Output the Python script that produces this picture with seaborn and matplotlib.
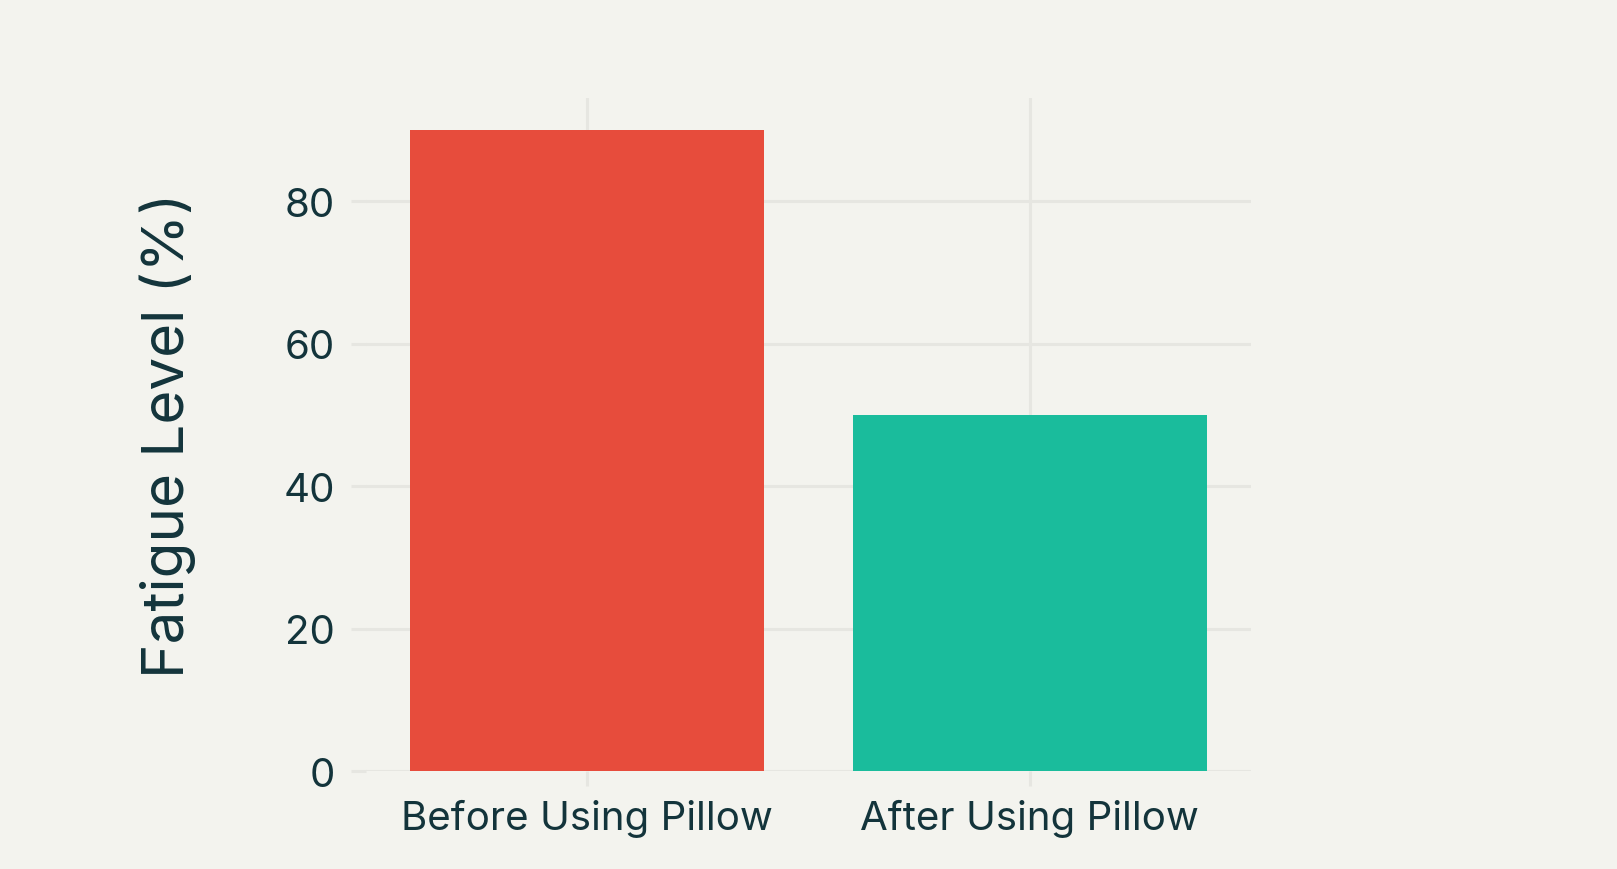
import pandas as pd
import matplotlib.pyplot as plt
import seaborn as sns

# Dados do gráfico
categories = ['Before Using Pillow', 'After Using Pillow']
fatigue = [90, 50]
bar_colors = ['#E74C3C', '#1ABC9C']
y_ticks = [0, 20, 40, 60, 80]

BG = '#F3F3EE'
GRID = '#E6E6E1'
TEXT = '#13343B'

df = pd.DataFrame({'stage': categories, 'fatigue': fatigue})

sns.set_theme(style='white')
plt.rcParams['font.family'] = ['Inter', 'DejaVu Sans']

fig = plt.figure(figsize=(16.17, 8.70), dpi=100, facecolor=BG)
ax = fig.add_axes([0.2263, 0.1126, 0.5474, 0.7736])
ax.set_facecolor(BG)

sns.barplot(data=df, x='stage', y='fatigue', hue='stage',
            palette=dict(zip(categories, bar_colors)), order=categories,
            width=0.8, saturation=1, legend=False, linewidth=0, ax=ax)

ax.set_xlim(-0.5, 1.5)
ax.set_ylim(0, 94.5)
ax.set_yticks(y_ticks)
ax.set_axisbelow(True)
ax.grid(True, axis='both', color=GRID, linewidth=2.2)
for s in ax.spines.values():
    s.set_visible(False)

ax.tick_params(axis='both', bottom=True, left=True, colors=GRID,
               length=11, width=2.2, labelcolor=TEXT, labelsize=29)
ax.tick_params(axis='y', pad=11)
ax.tick_params(axis='x', pad=9)

ax.set_xlabel('')
ax.set_ylabel('Fatigue Level (%)', fontsize=42, color=TEXT, va='center')
ax.yaxis.set_label_coords(-0.224, 0.5)

plt.savefig('out.png', dpi=100, facecolor=BG)
